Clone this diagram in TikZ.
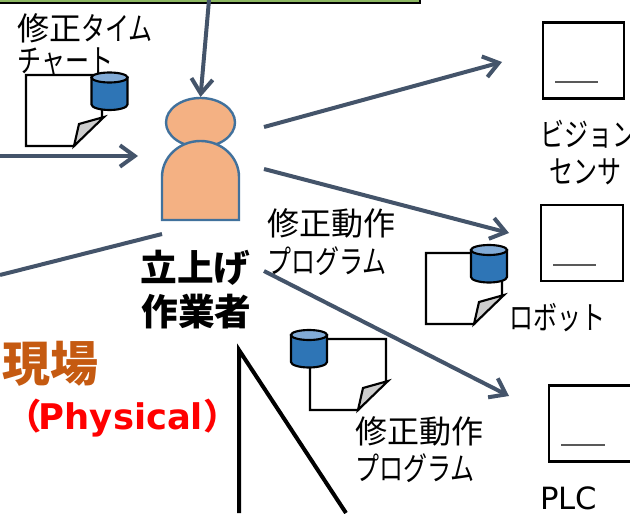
\documentclass[tikz,border=0pt]{standalone}
\usepackage{fontspec}
\setmainfont{Noto Sans CJK JP}
\newfontfamily\latinfont{DejaVu Sans}
\newfontfamily\kn[FakeStretch=0.75]{Noto Sans CJK JP}
\usetikzlibrary{arrows.meta}
\definecolor{connblue}{HTML}{44546A}
\definecolor{bodyline}{HTML}{41719C}
\definecolor{bodyfill}{HTML}{F4B183}
\definecolor{curlgray}{HTML}{CDCDCD}
\definecolor{canblue}{HTML}{2E75B6}
\definecolor{cantopc}{HTML}{82ABD6}
\definecolor{genba}{HTML}{C55A11}
\definecolor{topgreen}{HTML}{8DB863}
\tikzset{
  conn/.style={draw=connblue,line width=3pt,-{Straight Barb[length=11pt,width=16pt,line width=3pt]}},
  plainconn/.style={draw=connblue,line width=3pt},
  dev/.style={draw=black,line width=1.7pt,fill=white,minimum width=61pt,minimum height=57pt,inner sep=0pt,shape=rectangle},
  devline/.style={draw=black!65,line width=1pt},
  lbl/.style={font=\fontsize{24pt}{24pt}\selectfont,inner sep=0pt,anchor=west},
  body/.style={draw=bodyline,line width=1.8pt,fill=bodyfill},
  paper/.style={draw=black,line width=1.6pt,fill=white},
  curl/.style={draw=black,line width=1.6pt,fill=curlgray},
  can/.style={draw=black,line width=1.6pt,fill=canblue},
  cantop/.style={draw=black,line width=1.6pt,fill=cantopc}
}
\newcommand{\docicon}[2]{%
  \begin{scope}[shift={(#1,#2)}]
    \draw[paper] (0,0) -- (76,0) -- (76,42) -- (48,71) -- (0,71) -- cycle;
    \draw[curl] (48,71) -- (53,49) -- (78,42) -- cycle;
  \end{scope}}
\newcommand{\canicon}[2]{%
  \begin{scope}[shift={(#1,#2)}]
    \draw[can] (-18,0) -- (-18,27) arc[start angle=180,end angle=0,x radius=18,y radius=5.5] -- (18,0) -- cycle;
    \draw[cantop] (0,0) ellipse[x radius=18,y radius=5];
  \end{scope}}
\begin{document}
\begin{tikzpicture}[x=0.75pt,y=-0.75pt]
\useasboundingbox (0,0) rectangle (630,513);
\fill[white] (0,0) rectangle (630,513);
% top bar
\fill[topgreen] (0,0) rectangle (420,2.5);
\draw[black,line width=1pt] (0,3) -- (420,3) -- (420,0);
% person
\draw[body] (200.5,122.5) ellipse[x radius=34.5,y radius=24.5];
\draw[body] (162,220) -- (162,177) arc[start angle=180,end angle=360,x radius=38.5,y radius=36] -- (239,220) -- cycle;
% docs
\docicon{26}{75}
\canicon{109.5}{77.5}
\docicon{426}{253}
\canicon{489}{250}
\docicon{310}{339}
\canicon{309}{335}
% devices
\node[dev] (d1) at (583.5,60.5) {};
\node[dev] (d2) at (582,243) {};
\node[dev] (d3) at (590,423.5) {};
\draw[devline] (555,82) -- (598,82);
\draw[devline] (553,265) -- (596,265);
\draw[devline] (561,445) -- (605,445);
% connectors
\coordinate (t0) at (209,0);
\coordinate (t1) at (200.5,97);
\draw[conn] (t0) -- (t1);
\coordinate (l0) at (0,156);
\coordinate (l1) at (138,156);
\draw[conn] (l0) -- (l1);
\coordinate (o1) at (264,127);
\coordinate (e1) at (502,62);
\draw[conn] (o1) -- (e1);
\coordinate (o2) at (264,169);
\coordinate (e2) at (509,233);
\draw[conn] (o2) -- (e2);
\coordinate (o3) at (264,271);
\coordinate (e3) at (509,396);
\draw[conn] (o3) -- (e3);
\coordinate (p0) at (162,234);
\coordinate (p1) at (0,275);
\draw[plainconn] (p0) -- (p1);
% triangle
\coordinate (tr0) at (239,513);
\coordinate (tr1) at (239,350);
\coordinate (tr2) at (346,513);
\draw[black,line width=3pt] (tr0) -- (tr1) -- (tr2);
% labels
\node[lbl] (n1) at (17,28) {修正{\kn タイム}};
\node[lbl] (n2) at (17,62) {\kn チャート};
\node[lbl] (n3) at (267,223) {修正動作};
\node[lbl] (n4) at (267,261) {\kn プログラム};
\node[lbl] (n5) at (355,431) {修正動作};
\node[lbl] (n6) at (355,468) {\kn プログラム};
\node[lbl] (n7) at (509,318) {\kn ロボット};
\node[lbl] (n8) at (540,134) {\kn ビジョン};
\node[lbl] (n9) at (549,172) {\kn センサ};
\node[lbl,font=\latinfont\fontsize{23pt}{23pt}\selectfont] (n10) at (540,498) {PLC};
\node[lbl,anchor=center,font=\fontsize{27.5pt}{27.5pt}\selectfont\bfseries] (n11) at (195.5,268) {立上げ};
\node[lbl,anchor=center,font=\fontsize{27.5pt}{27.5pt}\selectfont\bfseries] (n12) at (196.5,312) {作業者};
\node[lbl,text=genba,font=\fontsize{36pt}{36pt}\selectfont\bfseries] (n13) at (2,364) {現場};
\node[lbl,text=red,font=\fontsize{26.5pt}{26.5pt}\selectfont\bfseries] (n14) at (6,418) {（\hspace{-2pt}{\latinfont\bfseries Physical}）};
\end{tikzpicture}
\end{document}
